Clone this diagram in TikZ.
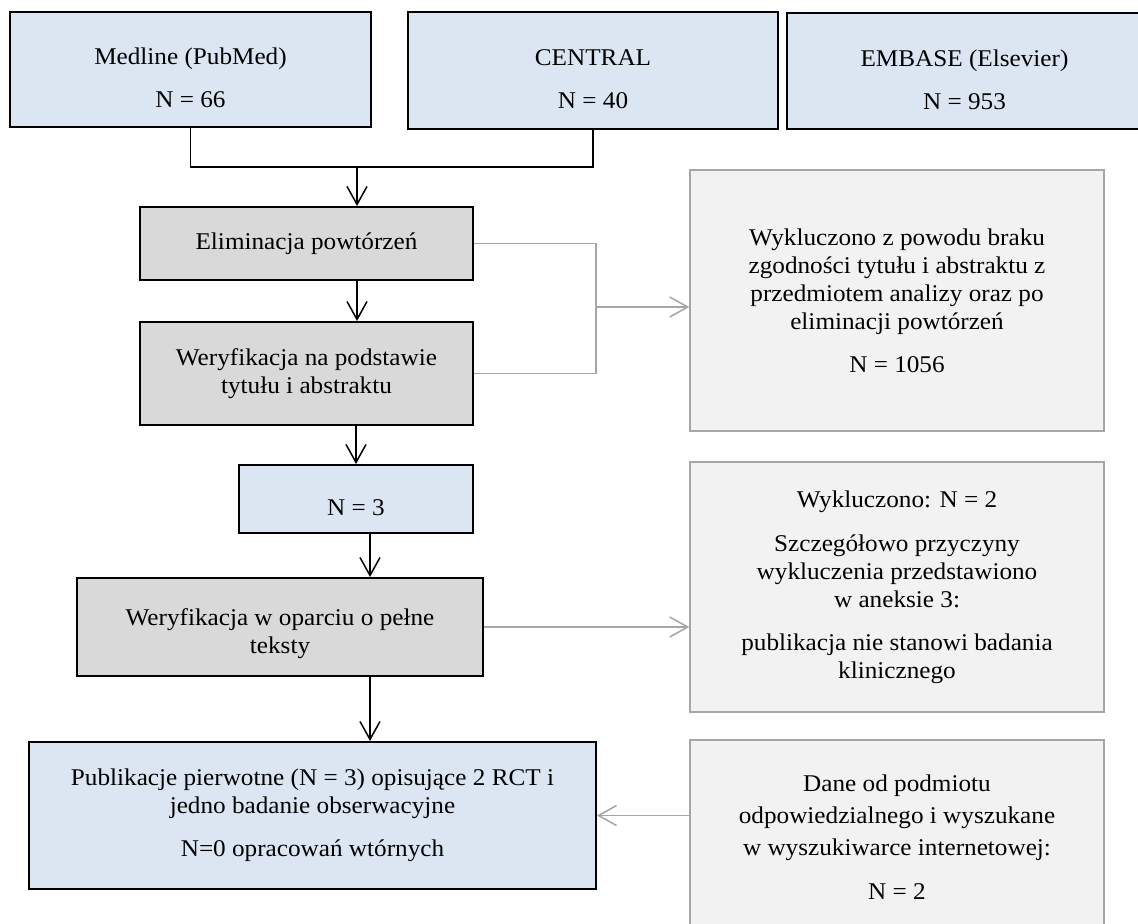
\documentclass[tikz,border=0pt]{standalone}
\usepackage{fontspec}
\setmainfont{Liberation Serif}[FakeStretch=1.05]
\usepackage{xcolor}
\usepackage{tikz}
\usetikzlibrary{arrows.meta,positioning,calc}

\definecolor{boxblue}{HTML}{DCE6F2}
\definecolor{boxgray}{HTML}{D9D9D9}
\definecolor{boxlight}{HTML}{F2F2F2}
\definecolor{linegray}{HTML}{A6A6A6}
\newcommand{\firstup}{\rule{0pt}{17pt}}

\begin{document}
\begin{tikzpicture}[x=0.5pt, y=-0.5pt,
        txt/.style={font=\fontsize{12}{14}\selectfont, align=center, inner sep=0pt},
        dbbox/.style={txt, draw=black, line width=1pt, fill=boxblue},
        stepbox/.style={txt, draw=black, line width=1pt, fill=boxgray},
        outbox/.style={txt, draw=linegray, line width=0.75pt, fill=boxlight},
        blk/.style={draw=black, line width=0.75pt},
        gry/.style={draw=linegray, line width=0.75pt},
        tip/.style={-{Straight Barb[length=9pt,width=10pt]}}]
        \useasboundingbox (0,0) rectangle (1138,924);

        % Databases
        \node[dbbox, minimum width=180.5pt, minimum height=57.5pt] (medline) at (190.5,69.5) {\firstup Medline (PubMed)\\[7.5pt] N = 66};
        \node[dbbox, minimum width=185pt, minimum height=58.5pt] (central) at (593,70.5) {\firstup CENTRAL\\[7.5pt] N = 40};
        \node[dbbox, minimum width=177.5pt, minimum height=58pt] (embase) at (964.5,71) {\firstup EMBASE (Elsevier)\\[7.5pt] N = 953};

        % Screening steps
        \node[stepbox, minimum width=166.5pt, minimum height=36.5pt] (elim) at (306.5,243.5) {Eliminacja powtórzeń};
        \node[stepbox, minimum width=166.5pt, minimum height=51.5pt] (weryf) at (306.5,373.5) {Weryfikacja na podstawie\\ tytułu i abstraktu};
        \node[dbbox, minimum width=117pt, minimum height=34pt] (n3) at (356,499) {\firstup N = 3};
        \node[stepbox, minimum width=203pt, minimum height=49pt] (pelne) at (280,627) {\rule{0pt}{15pt}Weryfikacja w oparciu o pełne\\ teksty};
        \node[dbbox, minimum width=283.5pt, minimum height=73.5pt] (final) at (312.5,815.5) {Publikacje pierwotne (N = 3) opisujące 2 RCT i\\ jedno badanie obserwacyjne\\[7.5pt] N=0 opracowań wtórnych};

        % Side boxes
        \node[outbox, minimum width=207pt, minimum height=130.5pt] (wykl1) at (897,300.5) {Wykluczono z powodu braku\\ zgodności tytułu i abstraktu z\\ przedmiotem analizy oraz po\\ eliminacji powtórzeń\\[7.5pt] N = 1056};
        \node[outbox, minimum width=207pt, minimum height=125pt] (wykl2) at (897,587) {Wykluczono: N = 2\\[8pt] Szczegółowo przyczyny\\ wykluczenia przedstawiono\\ w aneksie 3:\\[7.5pt] publikacja nie stanowi badania\\ klinicznego};
        \node[outbox, minimum width=207pt, minimum height=97pt] (dane) at (897,837) {Dane od podmiotu\\[2pt] odpowiedzialnego i wyszukane\\[2pt] w wyszukiwarce internetowej:\\[8pt] N = 2};

        % Main flow
        \coordinate (join) at (357,167);
        \coordinate (merge) at (596,307);
        \draw[blk] (medline.south) |- (central.south |- join) -- (central.south);
        \draw[blk, tip] (join) -- (join |- elim.north);
        \draw[blk, tip] (elim.south -| join) -- (weryf.north -| join);
        \draw[blk, tip] (weryf.south -| n3) -- (n3.north);
        \draw[blk, tip] ([xshift=7pt]n3.south) -- ([xshift=7pt]n3.south |- pelne.north);
        \draw[blk, tip] ([xshift=45pt]pelne.south) -- ([xshift=45pt]pelne.south |- final.north);

        % Exclusions
        \draw[gry] (elim.east) -| (merge) |- (weryf.east);
        \draw[gry, tip] (merge) -- (merge -| wykl1.west);
        \draw[gry, tip] (pelne.east) -- (pelne.east -| wykl2.west);
        \draw[gry, tip] (dane.west |- final.east) -- (final.east);
\end{tikzpicture}
\end{document}
